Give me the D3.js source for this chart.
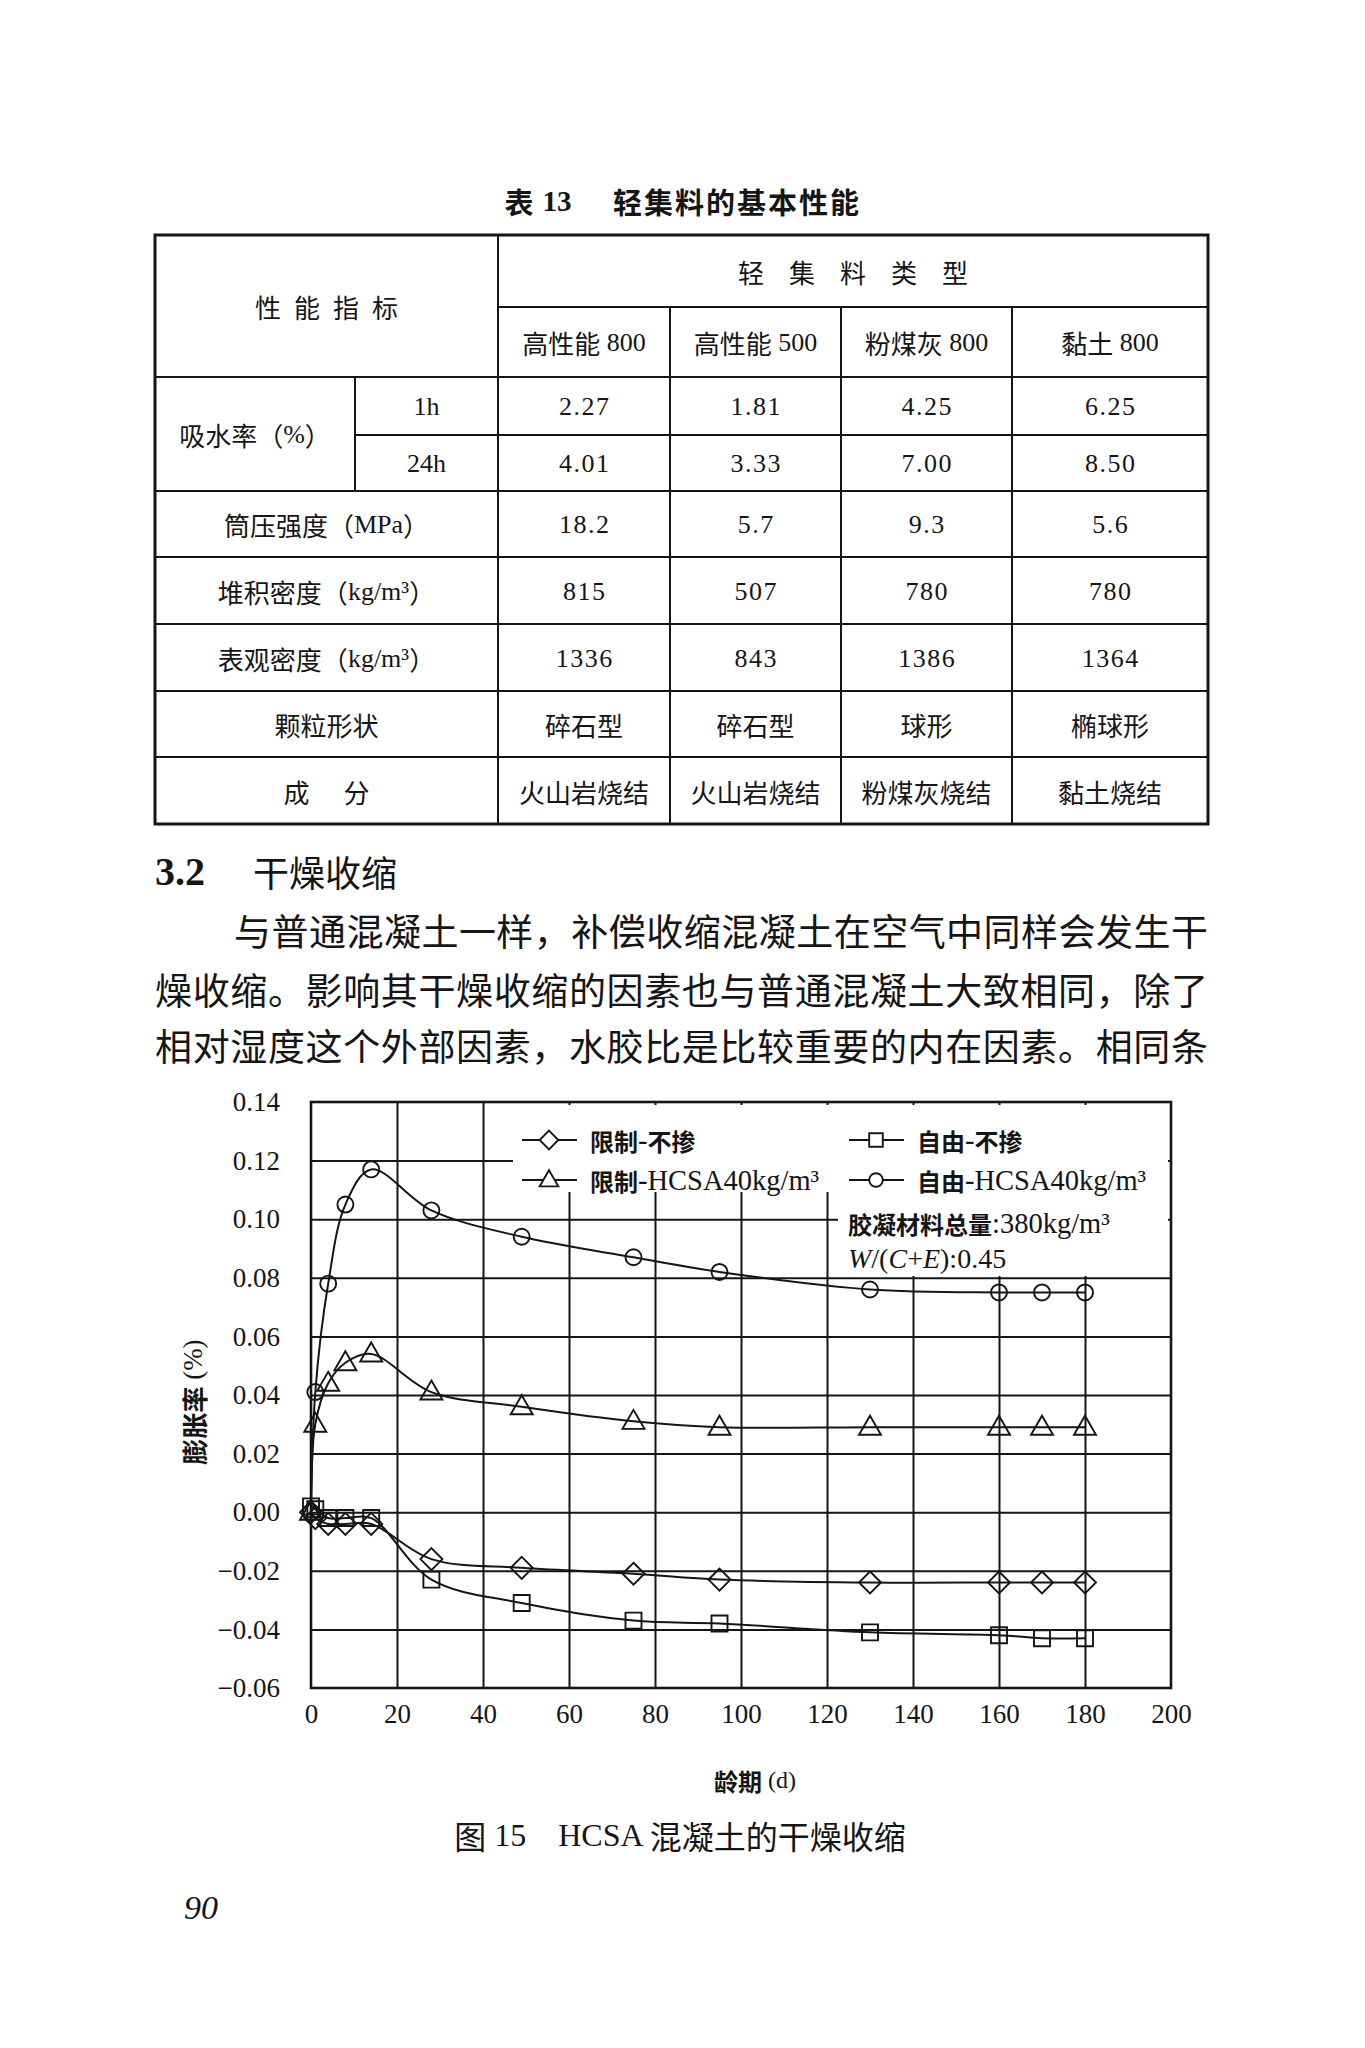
<!DOCTYPE html>
<html>
<head>
<meta charset="utf-8">
<script src="https://cdn.jsdelivr.net/npm/d3@7"></script>
<style>
  body { margin: 0; background: #fff; }
  svg { display: block; }
  .cjk { font-family: "Noto Sans CJK SC", sans-serif; }
  .serif { font-family: "Liberation Serif", "Noto Sans CJK SC", serif; }
</style>
</head>
<body>
<div id="page"></div>
<script>
// ---- table 13 data
const aggregateTypes = ["高性能 800", "高性能 500", "粉煤灰 800", "黏土 800"];
const absorption1h = ["2.27", "1.81", "4.25", "6.25"];
const absorption24h = ["4.01", "3.33", "7.00", "8.50"];
const cylinderStrength = ["18.2", "5.7", "9.3", "5.6"];
const bulkDensity = ["815", "507", "780", "780"];
const apparentDensity = ["1336", "843", "1386", "1364"];
const particleShape = ["碎石型", "碎石型", "球形", "椭球形"];
const composition = ["火山岩烧结", "火山岩烧结", "粉煤灰烧结", "黏土烧结"];

// ---- figure 15 data (age in days, expansion in %)
const days = [0, 1, 4, 8, 14, 28, 49, 75, 95, 130, 160, 170, 180];
const restrainedPlain = [0, -0.002, -0.004, -0.004, -0.004, -0.016, -0.019, -0.021, -0.023, -0.024, -0.024, -0.024, -0.024];
const freePlain = [0.002, 0.001, -0.002, -0.002, -0.002, -0.023, -0.031, -0.037, -0.038, -0.041, -0.042, -0.043, -0.043];
const restrainedHcsa = [0, 0.030, 0.044, 0.051, 0.054, 0.041, 0.036, 0.031, 0.029, 0.029, 0.029, 0.029, 0.029];
const freeHcsa = [0, 0.041, 0.078, 0.105, 0.117, 0.103, 0.094, 0.087, 0.082, 0.076, 0.075, 0.075, 0.075];
const seriesNames = ["限制-不掺", "自由-不掺", "限制-HCSA40kg/m³", "自由-HCSA40kg/m³"];
const xTicks = d3.range(0, 201, 20);
const yTicks = [0.14, 0.12, 0.10, 0.08, 0.06, 0.04, 0.02, 0.00, -0.02, -0.04, -0.06];

const W = 1365, H = 2048;
const ink = "#151515";

const svg = d3.select("#page").append("svg")
  .attr("width", W).attr("height", H);
svg.append("rect").attr("width", W).attr("height", H).attr("fill", "#fff");

// split mixed text into CJK / latin tspans
function mixed(sel, str, cjkWeight, latinSize, cjkSize) {
  str.split(/([\u3000-\u303f\u4e00-\u9fff\uff00-\uffef]+)/).filter(s => s).forEach(part => {
    const isCjk = /[\u3000-\u303f\u4e00-\u9fff\uff00-\uffef]/.test(part);
    sel.append("tspan")
      .attr("class", isCjk ? "cjk" : "serif")
      .attr("font-weight", isCjk ? cjkWeight : "normal")
      .attr("font-size", isCjk ? cjkSize : latinSize)
      .text(part);
  });
  return sel;
}

function label(x, y, str, opts = {}) {
  const t = svg.append("text")
    .attr("x", x).attr("y", y)
    .attr("text-anchor", opts.anchor || "middle")
    .attr("dominant-baseline", "central")
    .attr("fill", ink);
  if (opts.spacing) t.attr("letter-spacing", opts.spacing).attr("dx", opts.spacing / 2);
  mixed(t, str, opts.weight || "normal", opts.latin || 26, opts.cjk || 26);
  return t;
}

// ---------------- table ----------------
label(519, 201, "表", { weight: "bold", cjk: 29 });
svg.append("text").attr("x", 557).attr("y", 201).attr("text-anchor", "middle")
  .attr("dominant-baseline", "central").attr("class", "serif")
  .attr("font-weight", "bold").attr("font-size", 29).attr("fill", ink).text("13");
label(736, 201, "轻集料的基本性能", { weight: "bold", cjk: 29, spacing: 2 });

const colX = [155, 355, 498, 670, 841, 1012, 1208];
const rowY = [235, 307, 377, 435, 491, 557, 624, 691, 757, 824];
const tbl = svg.append("g").attr("stroke", ink).attr("fill", "none");
tbl.append("rect").attr("x", colX[0]).attr("y", rowY[0])
  .attr("width", colX[6] - colX[0]).attr("height", rowY[9] - rowY[0])
  .attr("stroke-width", 3);
const hLines = [
  [rowY[1], colX[2], colX[6]], [rowY[2], colX[0], colX[6]], [rowY[3], colX[1], colX[6]],
  [rowY[4], colX[0], colX[6]], [rowY[5], colX[0], colX[6]], [rowY[6], colX[0], colX[6]],
  [rowY[7], colX[0], colX[6]], [rowY[8], colX[0], colX[6]]
];
hLines.forEach(([y, x1, x2]) => tbl.append("line")
  .attr("x1", x1).attr("x2", x2).attr("y1", y).attr("y2", y).attr("stroke-width", 2));
const vLines = [
  [colX[1], rowY[2], rowY[4]], [colX[2], rowY[0], rowY[9]],
  [colX[3], rowY[1], rowY[9]], [colX[4], rowY[1], rowY[9]], [colX[5], rowY[1], rowY[9]]
];
vLines.forEach(([x, y1, y2]) => tbl.append("line")
  .attr("x1", x).attr("x2", x).attr("y1", y1).attr("y2", y2).attr("stroke-width", 2));

const mid = (a, b) => (a + b) / 2;
const valueX = d3.range(4).map(i => mid(colX[i + 2], colX[i + 3]));

label(mid(colX[0], colX[2]), mid(rowY[0], rowY[2]), "性能指标", { spacing: 13 });
label(mid(colX[2], colX[6]), mid(rowY[0], rowY[1]), "轻集料类型", { spacing: 25 });
aggregateTypes.forEach((d, i) => label(valueX[i], mid(rowY[1], rowY[2]), d));
label(mid(colX[0], colX[1]), mid(rowY[2], rowY[4]), "吸水率（%）");
label(mid(colX[1], colX[2]), mid(rowY[2], rowY[3]), "1h");
label(mid(colX[1], colX[2]), mid(rowY[3], rowY[4]), "24h");

const tableRows = [
  { name: null, values: absorption1h, r: 2 },
  { name: null, values: absorption24h, r: 3 },
  { name: "筒压强度（MPa）", values: cylinderStrength, r: 4 },
  { name: "堆积密度（kg/m³）", values: bulkDensity, r: 5 },
  { name: "表观密度（kg/m³）", values: apparentDensity, r: 6 },
  { name: "颗粒形状", values: particleShape, r: 7 },
  { name: "成分", values: composition, r: 8, spacing: 34 }
];
tableRows.forEach(row => {
  const cy = mid(rowY[row.r], rowY[row.r + 1]);
  if (row.name) label(mid(colX[0], colX[2]), cy, row.name, { spacing: row.spacing });
  row.values.forEach((v, i) => label(valueX[i], cy, v, { spacing: /\d/.test(v) ? 1.5 : 0 }));
});

// ---------------- body text ----------------
svg.append("text").attr("x", 155).attr("y", 871).attr("dominant-baseline", "central")
  .attr("class", "serif").attr("font-weight", "bold").attr("font-size", 40)
  .attr("fill", ink).text("3.2");
label(253, 871, "干燥收缩", { anchor: "start", cjk: 36 });

const bodyLines = [
  { x: 234, y: 930, t: "与普通混凝土一样，补偿收缩混凝土在空气中同样会发生干" },
  { x: 155, y: 989, t: "燥收缩。影响其干燥收缩的因素也与普通混凝土大致相同，除了" },
  { x: 155, y: 1045, t: "相对湿度这个外部因素，水胶比是比较重要的内在因素。相同条" }
];
bodyLines.forEach(l => svg.append("text")
  .attr("x", l.x).attr("y", l.y).attr("dominant-baseline", "central")
  .attr("class", "cjk").attr("font-size", 37).attr("fill", ink)
  .attr("textLength", 1208 - l.x).attr("lengthAdjust", "spacing")
  .text(l.t));

// ---------------- figure 15 ----------------
const plot = { left: 311, right: 1171, top: 1102, bottom: 1688 };
const x = d3.scaleLinear().domain([0, 200]).range([plot.left, plot.right]);
const y = d3.scaleLinear().domain([-0.06, 0.14]).range([plot.bottom, plot.top]);
const fmt = v => d3.format(".2f")(v).replace("-", "−");

// grid
const grid = svg.append("g").attr("color", ink);
grid.append("g").attr("transform", `translate(0,${plot.bottom})`)
  .call(d3.axisBottom(x).tickValues(xTicks.slice(1, -1)).tickSize(-(plot.bottom - plot.top)).tickFormat(""))
  .call(g => g.select(".domain").remove());
grid.append("g").attr("transform", `translate(${plot.left},0)`)
  .call(d3.axisLeft(y).tickValues(yTicks.slice(1, -1)).tickSize(-(plot.right - plot.left)).tickFormat(""))
  .call(g => g.select(".domain").remove());
grid.selectAll("line").attr("stroke-width", 2);

// legend backgrounds hide the grid
svg.append("rect").attr("x", 513).attr("y", plot.top + 3)
  .attr("width", plot.right - 3 - 513).attr("height", 1192 - plot.top - 3).attr("fill", "#fff");
svg.append("rect").attr("x", 838).attr("y", 1192)
  .attr("width", plot.right - 3 - 838).attr("height", 84).attr("fill", "#fff");

svg.append("rect").attr("x", plot.left).attr("y", plot.top)
  .attr("width", plot.right - plot.left).attr("height", plot.bottom - plot.top)
  .attr("fill", "none").attr("stroke", ink).attr("stroke-width", 2.6);

// tick labels
const yAxis = svg.append("g").attr("transform", `translate(${plot.left},0)`)
  .call(d3.axisLeft(y).tickValues(yTicks).tickSize(0).tickPadding(31).tickFormat(fmt))
  .call(g => g.select(".domain").remove());
const xAxis = svg.append("g").attr("transform", `translate(0,${plot.bottom})`)
  .call(d3.axisBottom(x).tickValues(xTicks).tickSize(0).tickPadding(16))
  .call(g => g.select(".domain").remove());
[yAxis, xAxis].forEach(a => a.attr("font-family", "Liberation Serif").attr("font-size", 27)
  .attr("color", ink));

// axis titles
const yTitle = svg.append("text")
  .attr("transform", "translate(193,1402) rotate(-90)")
  .attr("text-anchor", "middle").attr("dominant-baseline", "central").attr("fill", ink);
mixed(yTitle, "膨胀率 (%)", "bold", 27, 26);
const xTitle = svg.append("text").attr("x", 755).attr("y", 1780)
  .attr("text-anchor", "middle").attr("dominant-baseline", "central").attr("fill", ink);
mixed(xTitle, "龄期 (d)", "bold", 24, 24);

// series
const markerPath = {
  diamond: "M0,-11L11,0L0,11L-11,0Z",
  square: "M-8,-8H8V8H-8Z",
  triangle: "M0,-11.5L11,7.5H-11Z",
  circle: d3.symbol(d3.symbolCircle, Math.PI * 64)()
};
const series = [
  { name: seriesNames[0], values: restrainedPlain, shape: "diamond", lx: 549, ly: 1140 },
  { name: seriesNames[1], values: freePlain, shape: "square", lx: 876, ly: 1140 },
  { name: seriesNames[2], values: restrainedHcsa, shape: "triangle", lx: 549, ly: 1180 },
  { name: seriesNames[3], values: freeHcsa, shape: "circle", lx: 876, ly: 1180 }
];
const line = d3.line()
  .x(d => x(d[0])).y(d => y(d[1]))
  .curve(d3.curveCatmullRom.alpha(0.5));

series.forEach(s => {
  const pts = days.map((d, i) => [d, s.values[i]]);
  svg.append("path").attr("d", line(pts))
    .attr("fill", "none").attr("stroke", ink).attr("stroke-width", 2);
  svg.append("g").selectAll("path").data(pts).join("path")
    .attr("transform", d => `translate(${x(d[0])},${y(d[1])})`)
    .attr("d", markerPath[s.shape])
    .attr("fill", "none").attr("stroke", ink).attr("stroke-width", 1.9);

  // legend entry
  svg.append("line").attr("x1", s.lx - 27).attr("x2", s.lx + 28)
    .attr("y1", s.ly).attr("y2", s.ly).attr("stroke", ink).attr("stroke-width", 1.9);
  svg.append("path").attr("transform", `translate(${s.lx},${s.ly}) scale(0.85)`)
    .attr("d", markerPath[s.shape]).attr("fill", "#fff")
    .attr("stroke", ink).attr("stroke-width", 2.2);
  const t = svg.append("text").attr("x", s.lx + 41).attr("y", s.ly)
    .attr("dominant-baseline", "central").attr("fill", ink);
  mixed(t, s.name, "bold", 28.5, 24);
});

const note1 = svg.append("text").attr("x", 848).attr("y", 1223)
  .attr("dominant-baseline", "central").attr("fill", ink);
mixed(note1, "胶凝材料总量:380kg/m³", "bold", 28.5, 24);
const note2 = svg.append("text").attr("x", 848).attr("y", 1258)
  .attr("dominant-baseline", "central").attr("fill", ink)
  .attr("class", "serif").attr("font-size", 28);
[["W", 1], ["/(", 0], ["C", 1], ["+", 0], ["E", 1], ["):0.45", 0]].forEach(([s, it]) =>
  note2.append("tspan").attr("font-style", it ? "italic" : "normal").text(s));

// caption and page number
const cap = svg.append("text").attr("x", 680).attr("y", 1835)
  .attr("text-anchor", "middle").attr("dominant-baseline", "central").attr("fill", ink);
mixed(cap, "图 15\u2003HCSA 混凝土的干燥收缩", "normal", 32, 32);

svg.append("text").attr("x", 184).attr("y", 1907).attr("dominant-baseline", "central")
  .attr("class", "serif").attr("font-style", "italic").attr("font-size", 34)
  .attr("fill", ink).text("90");
</script>
</body>
</html>
